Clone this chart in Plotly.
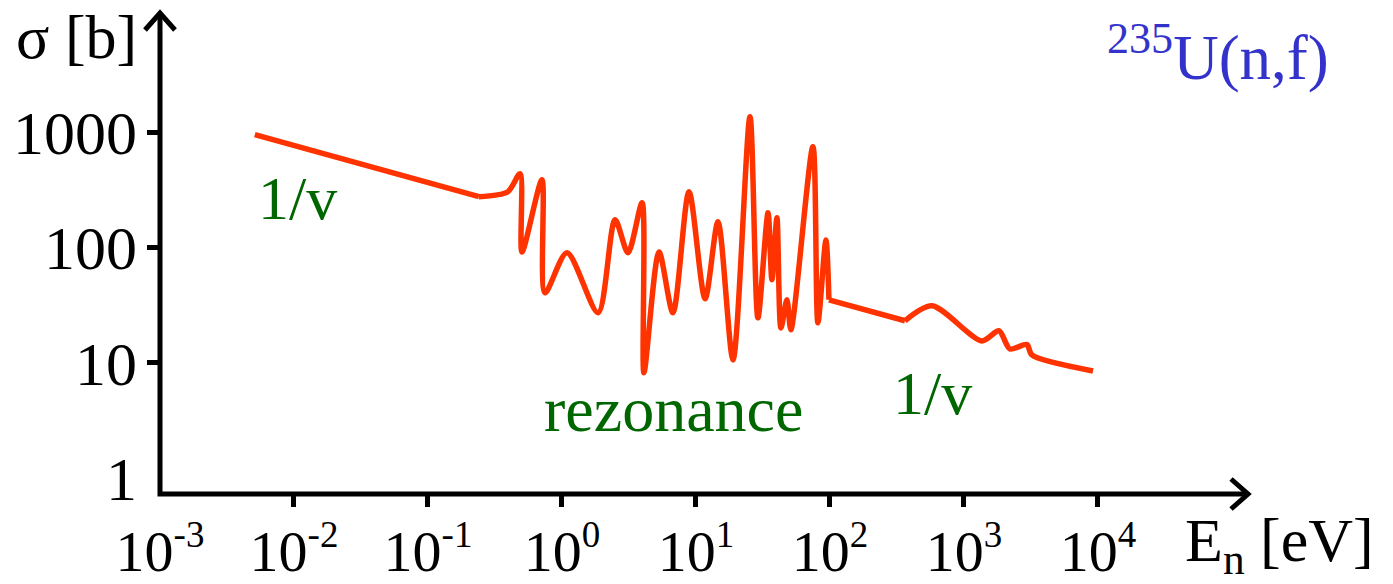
import plotly.graph_objects as go

# 235U(n,f) cross section, sketched in three regions
thermal_energy = [0.0051, 0.24]
thermal_sigma = [960, 278]

resonance_energy = [0.24, 0.395, 0.486, 0.503, 0.709, 0.747, 1.09, 1.86, 2.49, 3.11,
                    3.96, 4.09, 5.30, 6.73, 8.87, 11.7, 14.6, 18.9, 25.3, 29.0,
                    34.5, 36.9, 40.2, 43.1, 47.7, 51.1, 74.6, 81.3, 93.3, 98.3]
resonance_sigma = [278, 307, 440, 92, 390, 40.6, 90.5, 27.2, 175, 90.5,
                   246, 8.2, 92, 27.2, 307, 36, 168, 10.6, 1378, 24.6,
                   201, 52.7, 182, 20.1, 35.3, 19.4, 756, 22.3, 117, 35.3]

fast_line_energy = [98.3, 363]
fast_line_sigma = [35.3, 23.2]

fast_energy = [363, 577, 1361, 1824, 2203, 2951, 3214, 9183]
fast_sigma = [23.2, 31.3, 15.5, 19.0, 13.2, 14.4, 11.7, 8.5]

x_tickvals = [1e-3, 1e-2, 1e-1, 1e0, 1e1, 1e2, 1e3, 1e4]
x_exponents = ["-3", "-2", "-1", "0", "1", "2", "3", "4"]
x_ticktext = [f"10<sup><span style='font-size:37px'>{e}</span></sup>" for e in x_exponents]
x_tickmarks = [1e-2, 1e-1, 1e0, 1e1, 1e2, 1e3, 1e4]

y_tickvals = [1, 10, 100, 1000]
y_ticktext = ["1", "10", "100", "1000"]
y_tickmarks = [10, 100, 1000]

RED = "#ff3300"
GREEN = "#006600"
BLUE = "#3333cc"
FONT = "Liberation Serif"
XRANGE = [-3, 5.12]
YRANGE = [-0.14, 4.04]

fig = go.Figure()
fig.add_trace(go.Scatter(x=thermal_energy, y=thermal_sigma, mode="lines",
                         line=dict(color=RED, width=5.5)))
fig.add_trace(go.Scatter(x=resonance_energy, y=resonance_sigma, mode="lines",
                         line=dict(color=RED, width=5.5, shape="spline", smoothing=0.8)))
fig.add_trace(go.Scatter(x=fast_line_energy, y=fast_line_sigma, mode="lines",
                         line=dict(color=RED, width=5.5)))
fig.add_trace(go.Scatter(x=fast_energy, y=fast_sigma, mode="lines",
                         line=dict(color=RED, width=5.5, shape="spline", smoothing=0.8)))

fig.update_layout(
    width=1393, height=584,
    margin=dict(l=160, r=145, t=13, b=90, autoexpand=False),
    paper_bgcolor="white", plot_bgcolor="white",
    showlegend=False,
    font=dict(family=FONT, size=62, color="black"),
    xaxis=dict(type="log", range=XRANGE, showgrid=False, zeroline=False,
               showline=False, tickvals=x_tickvals, ticktext=x_ticktext,
               ticks="", ticklabelstandoff=18, automargin=False,
               tickfont=dict(family=FONT, size=58, color="black")),
    yaxis=dict(type="log", range=YRANGE, showgrid=False, zeroline=False,
               showline=False, tickvals=y_tickvals, ticktext=y_ticktext,
               ticks="", ticklabelstandoff=22, automargin=False,
               tickfont=dict(family=FONT, size=62, color="black")),
    # overlay axes carrying only the tick marks
    xaxis2=dict(type="log", range=XRANGE, overlaying="x", anchor="y",
                showgrid=False, zeroline=False, showline=False, automargin=False,
                tickvals=x_tickmarks, ticks="outside", ticklen=12, tickwidth=5,
                tickcolor="black", showticklabels=False),
    yaxis2=dict(type="log", range=YRANGE, overlaying="y", anchor="x",
                showgrid=False, zeroline=False, showline=False, automargin=False,
                tickvals=y_tickmarks, ticks="outside", ticklen=12, tickwidth=5,
                tickcolor="black", showticklabels=False),
)

# invisible trace so the overlay axes are drawn
fig.add_trace(go.Scatter(x=[1e-3], y=[1], xaxis="x2", yaxis="y2", mode="markers",
                         marker=dict(opacity=0), hoverinfo="skip"))

shapes = [
    # axes as one polyline
    dict(type="path", xref="paper", yref="paper", path="M 0,1 L 0,0 L 1,0",
         line=dict(color="black", width=5)),
    # arrow heads
    dict(type="path", xref="paper", yref="paper", xsizemode="pixel", ysizemode="pixel",
         xanchor=1, yanchor=0, path="M -17,15 L 0,0 L -17,-15",
         line=dict(color="black", width=5)),
    dict(type="path", xref="paper", yref="paper", xsizemode="pixel", ysizemode="pixel",
         xanchor=0, yanchor=1, path="M -15,-17 L 0,0 L 15,-17",
         line=dict(color="black", width=5)),
]
fig.update_layout(shapes=shapes)

annotations = [
    dict(text="σ [b]", x=-0.077, y=0.950, color="black", size=62),
    dict(text="<sup>235</sup>U(n,f)", x=0.972, y=0.915, color=BLUE, size=63),
    dict(text="1/v", x=0.126, y=0.615, color=GREEN, size=62),
    dict(text="rezonance", x=0.472, y=0.175, color=GREEN, size=64),
    dict(text="1/v", x=0.7096, y=0.21, color=GREEN, size=62),
    dict(text="E<sub>n</sub> [eV]", x=1.029, y=-0.105, color="black", size=62),
]
for a in annotations:
    fig.add_annotation(xref="paper", yref="paper", showarrow=False,
                       xanchor="center", yanchor="middle",
                       text=a["text"], x=a["x"], y=a["y"],
                       font=dict(family=FONT, size=a["size"], color=a["color"]))

fig.write_html("out.html")
